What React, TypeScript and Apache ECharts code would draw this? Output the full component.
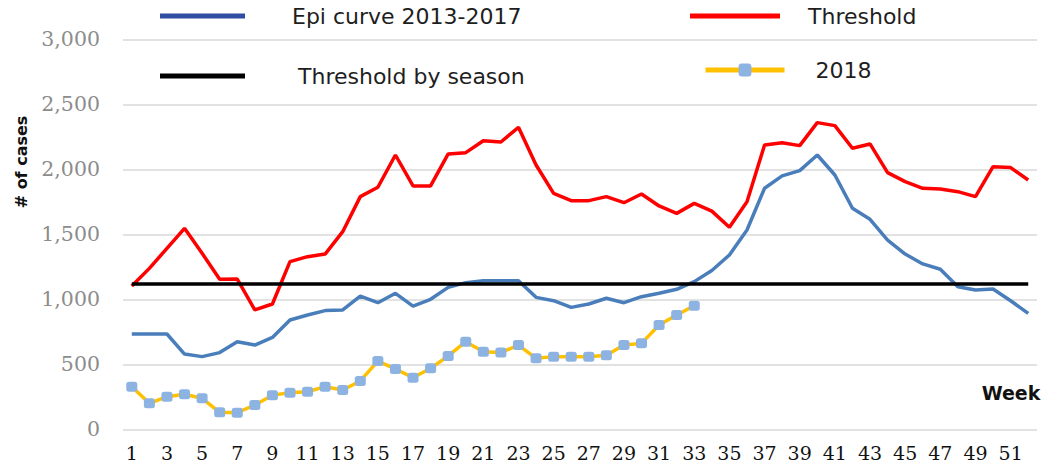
import React, { useEffect, useRef } from "react";
import * as echarts from "echarts";

const weeks: string[] = Array.from({ length: 52 }, (_, i) => String(i + 1));

const epiCurve: number[] = [
  733, 733, 733, 579, 559, 590, 674, 648, 707, 841, 879, 913, 918, 1025, 974, 1046, 948,
  1000, 1092, 1128, 1143, 1143, 1143, 1015, 989, 938, 964, 1008, 974, 1020, 1046, 1077, 1136,
  1222, 1341, 1533, 1854, 1949, 1990, 2110, 1956, 1700, 1615, 1456, 1348, 1272, 1231, 1097,
  1072, 1079, 989, 892,
];

const threshold: number[] = [
  1102, 1238, 1392, 1546, 1354, 1154, 1156, 918, 964, 1290, 1328, 1348, 1520, 1790, 1862, 2110,
  1872, 1872, 2118, 2128, 2220, 2210, 2323, 2033, 1815, 1759, 1759, 1790, 1743, 1810, 1718, 1661,
  1738, 1678, 1554, 1751, 2187, 2205, 2182, 2359, 2336, 2162, 2195, 1974, 1905, 1854, 1848, 1828,
  1790, 2020, 2013, 1918,
];

const seasonThreshold = 1118;

const cases2018: number[] = [
  328, 200, 251, 269, 238, 131, 128, 187, 262, 282, 289, 328, 302, 372, 525, 464, 397, 469, 564,
  674, 597, 590, 648, 546, 559, 559, 559, 569, 648, 661, 802, 879, 951,
];

const yTicks = { min: 0, max: 3000, interval: 500 };

const names = {
  epi: "Epi curve 2013-2017",
  thr: "Threshold",
  season: "Threshold by season",
  y2018: "2018",
};

export default function App() {
  const ref = useRef<HTMLDivElement>(null);

  useEffect(() => {
    document.body.style.margin = "0";
    if (!ref.current) return;
    const chart = echarts.init(ref.current, null, { renderer: "svg" });

    const legendText = {
      fontFamily: "DejaVu Sans",
      fontSize: 22,
      color: "#1e1e1e",
      lineHeight: 26,
    };

    const mkLegend = (
      name: string,
      left: number,
      top: number,
      gap: number,
      width: number,
      color: string,
    ) => ({
      data: [{ name, icon: "rect", itemStyle: { color } }],
      left,
      top,
      padding: 0,
      itemWidth: width,
      itemHeight: 5,
      selectedMode: false,
      textStyle: { ...legendText, padding: [0, 0, 0, gap] },
    });

    chart.setOption({
      animation: false,
      backgroundColor: "#ffffff",
      grid: { left: 123, right: 13, top: 39.3, bottom: 40.7, containLabel: false },
      legend: [
        mkLegend(names.epi, 160, 3, 42, 85, "#2f4ea3"),
        mkLegend(names.thr, 690, 3, 23, 90, "#ff0000"),
        mkLegend(names.season, 160, 63, 48, 85, "#000000"),
        {
          data: [names.y2018],
          left: 703,
          top: 57,
          padding: 0,
          itemWidth: 79,
          itemHeight: 16,
          selectedMode: false,
          lineStyle: { width: 5 },
          textStyle: { ...legendText, padding: [0, 0, 0, 26] },
        },
      ],
      xAxis: {
        type: "category",
        data: weeks,
        boundaryGap: true,
        axisLine: { show: false },
        axisTick: { show: false },
        axisLabel: {
          interval: 1,
          fontFamily: "DejaVu Serif",
          fontSize: 19,
          color: "#111",
          margin: 14,
        },
      },
      yAxis: {
        type: "value",
        min: yTicks.min,
        max: yTicks.max,
        interval: yTicks.interval,
        axisLine: { show: false },
        axisTick: { show: false },
        splitLine: { lineStyle: { color: "#d9d9d9", width: 1.5 } },
        axisLabel: {
          fontFamily: "DejaVu Serif",
          fontSize: 20.5,
          color: "#8c8c8c",
          margin: 23,
          formatter: (v: number) => v.toLocaleString("en-US"),
        },
      },
      graphic: [
        {
          type: "text",
          x: 21,
          y: 162,
          rotation: Math.PI / 2,
          style: {
            text: "# of cases",
            fontFamily: "DejaVu Sans",
            fontWeight: "bold",
            fontSize: 16,
            fill: "#111",
            align: "center",
            verticalAlign: "middle",
          },
        },
        {
          type: "text",
          x: 1011,
          y: 393,
          style: {
            text: "Week",
            fontFamily: "DejaVu Sans",
            fontWeight: "bold",
            fontSize: 19,
            fill: "#111",
            align: "center",
            verticalAlign: "middle",
          },
        },
      ],
      series: [
        {
          name: names.epi,
          type: "line",
          data: epiCurve,
          symbol: "none",
          lineStyle: { color: "#4a7ebb", width: 3.5 },
          itemStyle: { color: "#4a7ebb" },
          z: 2,
        },
        {
          name: names.thr,
          type: "line",
          data: threshold,
          symbol: "none",
          lineStyle: { color: "#ff0000", width: 3.5 },
          itemStyle: { color: "#ff0000" },
          z: 3,
        },
        {
          name: names.season,
          type: "line",
          data: weeks.map(() => seasonThreshold),
          symbol: "none",
          lineStyle: { color: "#000000", width: 3.5 },
          itemStyle: { color: "#000000" },
          z: 4,
        },
        {
          name: names.y2018,
          type: "line",
          data: cases2018,
          symbol: "roundRect",
          symbolSize: [11, 10],
          showSymbol: true,
          lineStyle: { color: "#ffc000", width: 3.5 },
          itemStyle: { color: "#8db3e2" },
          z: 5,
        },
      ],
    });

    return () => chart.dispose();
  }, []);

  return <div ref={ref} style={{ width: 1050, height: 470 }} />;
}
